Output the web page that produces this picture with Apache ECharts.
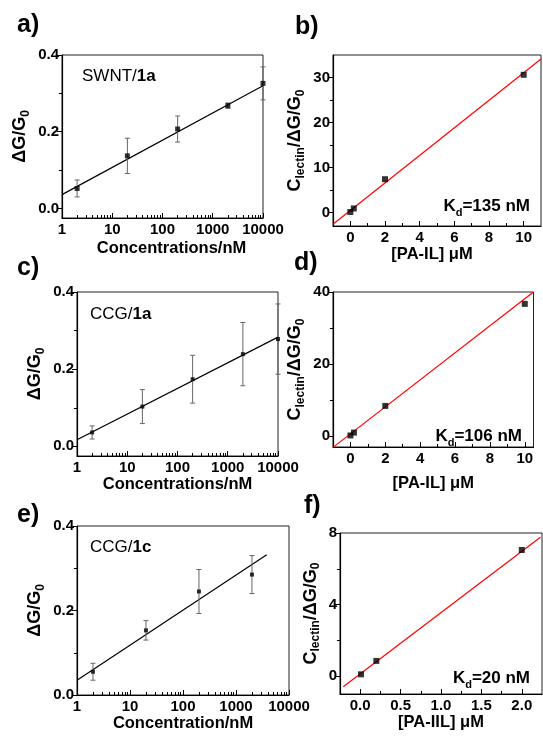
<!DOCTYPE html>
<html><head><meta charset="utf-8">
<script src="https://cdn.jsdelivr.net/npm/echarts@6/dist/echarts.min.js"></script>
<style>html,body{margin:0;padding:0;background:#fff}#c{width:543px;height:736px}</style>
</head><body><div id="c"></div>
<script>
// ---------- data ----------
const concA = [2, 20, 200, 2000, 10000];
const dgA   = [0.052, 0.137, 0.207, 0.268, 0.326];
const errA  = [0.022, 0.046, 0.034, 0.007, 0.043];
const fitA  = [[1, 0.036], [10000, 0.32]];

const concC = [2, 20, 200, 2000, 10000];
const dgC   = [0.036, 0.103, 0.174, 0.239, 0.278];
const errC  = [0.017, 0.044, 0.062, 0.082, 0.091];
const fitC  = [[1, 0.017], [10000, 0.283]];

const concE = [2, 20, 200, 2000];
const dgE   = [0.055, 0.153, 0.245, 0.285];
const errE  = [0.020, 0.023, 0.052, 0.045];
const fitE  = [[1, 0.035], [3800, 0.332]];

const paB = [0, 0.2, 2, 10];
const rB  = [0.1, 0.9, 7.4, 30.6];
const fitB = [[-1, -2.6], [11, 34.1]];

const paD = [0, 0.2, 2, 10];
const rD  = [0.2, 1.0, 8.4, 36.7];
const fitD = [[-1, -3.1], [10.5, 40]];

const paF = [0.01, 0.2, 2];
const rF  = [0.1, 0.85, 7.05];
const fitF = [[-0.21, -0.6], [2.23, 7.76]];

// ---------- ticks ----------
const logTicks = [1, 10, 100, 1000, 10000];
const logMinor = [2,3,4,5,6,7,8,9, 20,30,40,50,60,70,80,90, 200,300,400,500,600,700,800,900, 2000,3000,4000,5000,6000,7000,8000,9000];
const dgTicks = [0, 0.2, 0.4];
const dgMinor = [0.1, 0.3];
const bXTicks = [0, 2, 4, 6, 8, 10];
const bXMinor = [1, 3, 5, 7, 9];
const bYTicks = [0, 10, 20, 30];
const bYMinor = [5, 15, 25];
const dYTicks = [0, 20, 40];
const dYMinor = [10, 30];
const fXTicks = [0, 0.5, 1, 1.5, 2];
const fXMinor = [0.25, 0.75, 1.25, 1.75];
const fYTicks = [0, 4, 8];
const fYMinor = [2, 6];

const FONT = '"Liberation Sans", Arial, Helvetica, sans-serif';

const richName = {
  m: {fontFamily: FONT, fontWeight: 'bold', fontSize: 18, color: '#000', lineHeight: 20, padding: [0,0,5,0], verticalAlign:'top'},
  s: {fontFamily: FONT, fontWeight: 'bold', fontSize: 12, color: '#000', lineHeight: 13, verticalAlign:'bottom'}
};

const panels = [
  {grid:{left:62, top:55, width:201, height:163}, log:true, xMin:1, xMax:10000, xTicks:logTicks, xMinor:logMinor,
   yMin:-0.025, yMax:0.4, yTicks:dgTicks, yMinor:dgMinor, yFmt:v=>v.toFixed(1), xFmt:v=>String(Math.round(v)),
   xName:'Concentrations/nM', xNameGap:22, xNamePad:[0,0,0,18], yName:'{m|ΔG/G}{s|0}', yNameGap:27,
   x:concA, y:dgA, e:errA, fit:fitA, fitColor:'#000', sym:5},
  {grid:{left:333, top:55, width:208, height:171}, log:false, xMin:-1, xMax:11, xTicks:bXTicks, xMinor:bXMinor,
   yMin:-3, yMax:35, yTicks:bYTicks, yMinor:bYMinor, yFmt:v=>String(v), xFmt:v=>String(v),
   xName:'[PA-IL] μM', xNameGap:20, xNamePad:[0,10,0,0], yName:'{m|C}{s|lectin}{m|/ΔG/G}{s|0}', yNameGap:26,
   x:paB, y:rB, e:null, fit:fitB, fitColor:'#ff0000', sym:6},
  {grid:{left:77, top:292, width:201, height:164}, log:true, xMin:1, xMax:10000, xTicks:logTicks, xMinor:logMinor,
   yMin:-0.025, yMax:0.4, yTicks:dgTicks, yMinor:dgMinor, yFmt:v=>v.toFixed(1), xFmt:v=>String(Math.round(v)),
   xName:'Concentrations/nM', xNameGap:19, xNamePad:[0,0,0,0], yName:'{m|ΔG/G}{s|0}', yNameGap:27,
   x:concC, y:dgC, e:errC, fit:fitC, fitColor:'#000', sym:4},
  {grid:{left:333, top:292, width:200.5, height:155}, log:false, xMin:-1, xMax:10.5, xTicks:bXTicks, xMinor:bXMinor,
   yMin:-3, yMax:40, yTicks:dYTicks, yMinor:dYMinor, yFmt:v=>String(v), xFmt:v=>String(v),
   xName:'[PA-IL] μM', xNameGap:28, xNamePad:[0,0,0,0], yName:'{m|C}{s|lectin}{m|/ΔG/G}{s|0}', yNameGap:26,
   x:paD, y:rD, e:null, fit:fitD, fitColor:'#ff0000', sym:6},
  {grid:{left:77, top:526, width:212, height:169}, log:true, xMin:1, xMax:10000, xTicks:logTicks, xMinor:logMinor,
   yMin:0, yMax:0.4, yTicks:dgTicks, yMinor:dgMinor, yFmt:v=>v.toFixed(1), xFmt:v=>String(Math.round(v)),
   xName:'Concentration/nM', xNameGap:18, xNamePad:[0,0,0,0], yName:'{m|ΔG/G}{s|0}', yNameGap:27,
   x:concE, y:dgE, e:errE, fit:fitE, fitColor:'#000', sym:4},
  {grid:{left:340, top:533, width:202, height:161}, log:false, xMin:-0.25, xMax:2.25, xTicks:fXTicks, xMinor:fXMinor,
   yMin:-1, yMax:8, yTicks:fYTicks, yMinor:fYMinor, yFmt:v=>String(v), xFmt:v=>v.toFixed(1),
   xName:'[PA-IIL] μM', xNameGap:18, xNamePad:[0,0,0,0], yName:'{m|C}{s|lectin}{m|/ΔG/G}{s|0}', yNameGap:18,
   x:paF, y:rF, e:null, fit:fitF, fitColor:'#ff0000', sym:6}
];

const grid = [], xAxis = [], yAxis = [], series = [];
const axisLine = {show:true, onZero:false, lineStyle:{color:'#000', width:1.2}};
const lblStyle = {fontFamily:FONT, fontWeight:'bold', fontSize:15, color:'#000'};

panels.forEach((p, i) => {
  grid.push(Object.assign({show:true, borderColor:'#222', borderWidth:1, backgroundColor:'transparent'}, p.grid));
  const xa = {gridIndex:i, type: p.log ? 'log' : 'value', min:p.xMin, max:p.xMax, position:'bottom',
    axisLine, splitLine:{show:false},
    axisTick:{show:true, inside:true, length:5, lineStyle:{color:'#000', width:1}},
    axisLabel:Object.assign({margin:4, formatter:p.xFmt}, lblStyle),
    name:p.xName, nameLocation:'middle', nameGap:p.xNameGap,
    nameTextStyle:{fontFamily:FONT, fontWeight:'bold', fontSize:16.5, color:'#000', padding:p.xNamePad}};
  if (p.log) { xa.logBase = 10; }
  else { xa.axisTick.customValues = p.xTicks; xa.axisLabel.customValues = p.xTicks; }
  xAxis.push(xa);
  yAxis.push({gridIndex:i, type:'value', min:p.yMin, max:p.yMax, position:'left',
    axisLine, splitLine:{show:false},
    axisTick:{show:true, inside:false, length:5, customValues:p.yTicks, lineStyle:{color:'#000', width:1}},
    axisLabel:Object.assign({margin:3, customValues:p.yTicks, formatter:p.yFmt}, lblStyle),
    name:p.yName, nameLocation:'middle', nameGap:p.yNameGap, nameRotate:90,
    nameTextStyle:{rich:richName}});
});
panels.forEach((p, i) => {
  // minor tick axes
  xAxis.push({gridIndex:i, type: p.log ? 'log' : 'value', logBase:10, min:p.xMin, max:p.xMax, position:'bottom',
    axisLine:{show:false, onZero:false}, splitLine:{show:false}, axisLabel:{show:false},
    axisTick:{show:true, inside:true, length:3, customValues:p.xMinor, lineStyle:{color:'#000', width:1}}});
  yAxis.push({gridIndex:i, type:'value', min:p.yMin, max:p.yMax, position:'left',
    axisLine:{show:false, onZero:false}, splitLine:{show:false}, axisLabel:{show:false},
    axisTick:{show:true, inside:false, length:3, customValues:p.yMinor, lineStyle:{color:'#000', width:1}}});
});

panels.forEach((p, i) => {
  series.push({type:'line', xAxisIndex:i, yAxisIndex:i, data:p.fit, showSymbol:false, symbol:'none',
    lineStyle:{color:p.fitColor, width:1.2}, clip:true, silent:true, z:2});
  if (p.e) {
    series.push({type:'custom', xAxisIndex:i, yAxisIndex:i, z:3, clip:false,
      data:p.x.map((x, k) => [x, p.y[k], p.e[k]]),
      encode:{x:0, y:1},
      renderItem:(params, api) => {
        const x = api.value(0), y = api.value(1), e = api.value(2);
        const t = api.coord([x, y + e]), b = api.coord([x, y - e]);
        const w = 2.5, st = {stroke:'#666', lineWidth:1};
        return {type:'group', children:[
          {type:'line', shape:{x1:t[0], y1:t[1], x2:b[0], y2:b[1]}, style:st},
          {type:'line', shape:{x1:t[0]-w, y1:t[1], x2:t[0]+w, y2:t[1]}, style:st},
          {type:'line', shape:{x1:b[0]-w, y1:b[1], x2:b[0]+w, y2:b[1]}, style:st}
        ]};
      }});
  }
  series.push({type:'scatter', xAxisIndex:i, yAxisIndex:i, z:4, symbol:'rect', symbolSize:p.sym,
    itemStyle:{color:'#000'}, data:p.x.map((x, k) => [x, p.y[k]])});
});

function txt(x, y, text, rich, align, va) {
  return {type:'text', x, y, z:10, style:{text, rich, align:align||'left', verticalAlign:va||'middle'}};
}
const richPanel = {p:{fontFamily:FONT, fontWeight:'bold', fontSize:25, color:'#000'}};
const richInner = {
  n:{fontFamily:FONT, fontSize:17, color:'#000'},
  b:{fontFamily:FONT, fontSize:17, fontWeight:'bold', color:'#000'}
};
const richKd = {
  m:{fontFamily:FONT, fontWeight:'bold', fontSize:17, color:'#000', lineHeight:20, padding:[0,0,5,0], verticalAlign:'top'},
  s:{fontFamily:FONT, fontWeight:'bold', fontSize:11, color:'#000', lineHeight:12, verticalAlign:'bottom'}
};
const graphic = [
  txt(17, 25, '{p|a)}', richPanel), txt(295, 27, '{p|b)}', richPanel),
  txt(17, 268, '{p|c)}', richPanel), txt(294, 263, '{p|d)}', richPanel),
  txt(17, 515, '{p|e)}', richPanel), txt(304, 506, '{p|f)}', richPanel),
  txt(82, 76, '{n|SWNT/}{b|1a}', richInner),
  txt(90, 314, '{n|CCG/}{b|1a}', richInner),
  txt(90, 547, '{n|CCG/}{b|1c}', richInner),
  txt(530, 208, '{m|K}{s|d}{m|=135 nM}', richKd, 'right'),
  txt(522, 438, '{m|K}{s|d}{m|=106 nM}', richKd, 'right'),
  txt(530, 680, '{m|K}{s|d}{m|=20 nM}', richKd, 'right')
];

const chart = echarts.init(document.getElementById('c'), null, {renderer:'canvas'});
chart.setOption({animation:false, backgroundColor:'#fff', grid, xAxis, yAxis, series, graphic});
</script></body></html>
